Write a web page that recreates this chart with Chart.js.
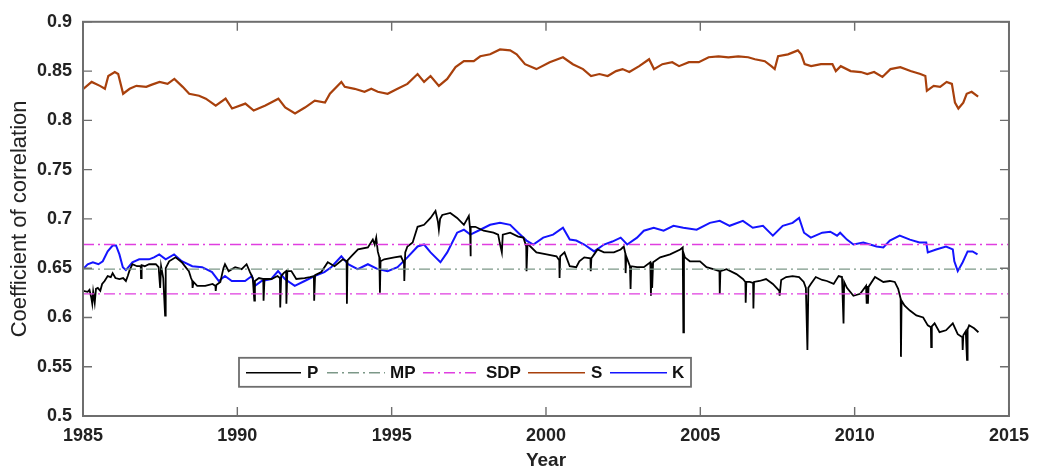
<!DOCTYPE html>
<html>
<head>
<meta charset="utf-8">
<script src="https://cdn.jsdelivr.net/npm/chart.js@4.4.1/dist/chart.umd.min.js"></script>
<style>
  html, body { margin: 0; padding: 0; background: #fff; }
  #wrap { width: 1038px; height: 472px; }
</style>
</head>
<body>
<div id="wrap"><canvas id="corrChart" width="1038" height="472"></canvas></div>
<script>
// axis setup
const xMin = 1985, xMax = 2015, xStep = 5;
const yMin = 0.5, yMax = 0.9, yStep = 0.05;

// P (black), spikes included
const pYears = [1985.00,1985.15,1985.21,1985.27,1985.30,1985.33,1985.38,1985.42,1985.48,1985.56,1985.62,1985.70,1985.80,1985.90,1985.96,
  1986.05,1986.18,1986.30,1986.39,1986.45,1986.50,1986.60,1986.75,1986.87,1986.88,1986.90,1987.00,1987.14,1987.36,1987.45,1987.50,1987.53,
  1987.60,1987.66,1987.68,1987.79,1988.00,1988.20,1988.35,1988.43,1988.50,1988.54,1988.55,1988.58,1988.70,1988.96,1989.20,1989.29,1989.30,
  1989.32,1989.45,1989.55,1989.60,1989.72,1989.93,1990.14,1990.30,1990.41,1990.50,1990.55,1990.57,1990.70,1990.84,1990.85,1990.88,1991.11,
  1991.30,1991.38,1991.39,1991.42,1991.50,1991.58,1991.59,1991.62,1991.75,1991.91,1992.18,1992.35,1992.48,1992.49,1992.52,1992.72,1992.93,
  1993.15,1993.42,1993.54,1993.55,1993.57,1993.69,1993.91,1994.23,1994.39,1994.45,1994.50,1994.55,1994.60,1994.62,1994.64,1994.76,1995.09,
  1995.30,1995.40,1995.41,1995.44,1995.51,1995.68,1995.84,1996.05,1996.26,1996.42,1996.50,1996.53,1996.57,1996.64,1996.90,1997.12,1997.34,
  1997.50,1997.54,1997.55,1997.57,1997.71,1997.98,1998.30,1998.45,1998.50,1998.57,1998.60,1998.84,1999.10,1999.27,1999.36,1999.37,1999.40,
  1999.43,1999.69,2000.02,2000.34,2000.43,2000.44,2000.46,2000.60,2000.77,2000.98,2001.08,2001.24,2001.44,2001.45,2001.47,2001.56,2001.67,
  2001.88,2002.20,2002.42,2002.52,2002.57,2002.58,2002.60,2002.72,2002.74,2002.76,2002.95,2003.17,2003.38,2003.40,2003.42,2003.44,2003.47,
  2003.70,2004.02,2004.35,2004.43,2004.45,2004.47,2004.50,2004.66,2004.99,2005.20,2005.42,2005.62,2005.63,2005.65,2005.85,2006.17,2006.38,
  2006.46,2006.47,2006.49,2006.60,2006.71,2006.72,2006.74,2006.92,2007.13,2007.35,2007.50,2007.56,2007.57,2007.62,2007.78,2007.99,2008.20,
  2008.35,2008.42,2008.47,2008.50,2008.58,2008.74,2008.95,2009.10,2009.32,2009.48,2009.59,2009.64,2009.66,2009.75,2009.96,2010.18,2010.37,
  2010.39,2010.41,2010.43,2010.45,2010.66,2010.93,2011.14,2011.30,2011.41,2011.49,2011.50,2011.52,2011.62,2011.79,2012.00,2012.22,2012.37,
  2012.47,2012.48,2012.50,2012.59,2012.75,2012.96,2013.18,2013.34,2013.49,2013.50,2013.52,2013.60,2013.64,2013.66,2013.71,2013.87,2014.01];
const pVals = [0.627,0.626,0.628,0.620,0.614,0.626,0.615,0.629,0.630,0.627,0.634,0.637,0.642,0.641,0.645,
  0.640,0.639,0.640,0.637,0.642,0.647,0.654,0.652,0.652,0.640,0.653,0.652,0.654,0.654,0.651,0.630,0.652,
  0.640,0.602,0.650,0.657,0.661,0.656,0.650,0.647,0.640,0.637,0.630,0.636,0.632,0.632,0.634,0.632,0.627,
  0.633,0.636,0.650,0.654,0.647,0.651,0.649,0.654,0.646,0.640,0.617,0.637,0.640,0.639,0.617,0.639,0.639,
  0.642,0.640,0.610,0.642,0.645,0.647,0.614,0.647,0.647,0.639,0.640,0.641,0.642,0.617,0.643,0.646,0.656,
  0.652,0.659,0.657,0.614,0.658,0.662,0.669,0.671,0.679,0.674,0.681,0.667,0.661,0.625,0.657,0.659,0.661,
  0.662,0.655,0.637,0.666,0.672,0.676,0.692,0.694,0.701,0.708,0.697,0.689,0.700,0.704,0.706,0.701,0.694,
  0.703,0.690,0.662,0.692,0.692,0.688,0.686,0.684,0.676,0.666,0.684,0.686,0.682,0.681,0.672,0.647,0.674,
  0.674,0.666,0.664,0.662,0.658,0.640,0.662,0.666,0.652,0.651,0.657,0.661,0.660,0.647,0.660,0.664,0.669,
  0.666,0.666,0.669,0.672,0.665,0.645,0.662,0.652,0.629,0.652,0.651,0.651,0.656,0.622,0.655,0.630,0.656,
  0.661,0.664,0.669,0.671,0.585,0.664,0.661,0.657,0.657,0.651,0.649,0.647,0.624,0.647,0.649,0.644,0.639,
  0.636,0.615,0.636,0.636,0.635,0.609,0.636,0.637,0.639,0.634,0.629,0.627,0.622,0.638,0.641,0.642,0.641,
  0.636,0.630,0.567,0.630,0.634,0.641,0.638,0.637,0.634,0.642,0.641,0.594,0.636,0.630,0.622,0.624,0.632,
  0.614,0.632,0.614,0.631,0.641,0.636,0.637,0.636,0.629,0.619,0.560,0.617,0.612,0.607,0.602,0.600,0.592,
  0.590,0.570,0.591,0.594,0.585,0.587,0.594,0.583,0.580,0.567,0.582,0.586,0.557,0.588,0.592,0.589,0.585];

// S (brown)
const sYears = [1985.01,1985.28,1985.55,1985.71,1985.82,1986.03,1986.14,1986.30,1986.51,1986.73,1987.05,1987.21,1987.48,1987.74,1987.96,
  1988.23,1988.44,1988.76,1988.98,1989.30,1989.62,1989.83,1990.26,1990.53,1990.91,1991.33,1991.55,1991.87,1992.19,1992.51,1992.84,1993.00,
  1993.37,1993.48,1993.80,1994.12,1994.34,1994.55,1994.87,1995.19,1995.51,1995.84,1996.05,1996.26,1996.53,1996.80,1997.07,1997.34,1997.66,
  1997.87,1998.19,1998.51,1998.84,1999.05,1999.32,1999.69,2000.12,2000.55,2000.87,2001.20,2001.46,2001.73,2002.00,2002.27,2002.48,2002.70,
  2003.02,2003.34,2003.50,2003.77,2004.09,2004.31,2004.63,2004.95,2005.27,2005.59,2005.91,2006.23,2006.55,2006.77,2007.09,2007.30,2007.41,
  2007.52,2007.84,2008.16,2008.27,2008.38,2008.59,2008.91,2009.28,2009.39,2009.55,2009.87,2010.20,2010.41,2010.63,2010.90,2011.16,2011.48,
  2011.81,2012.13,2012.29,2012.34,2012.56,2012.77,2012.98,2013.15,2013.25,2013.36,2013.52,2013.63,2013.79,2014.00];
const sVals = [0.832,0.839,0.835,0.832,0.845,0.849,0.847,0.827,0.832,0.835,0.834,0.836,0.839,0.837,0.842,
  0.834,0.827,0.825,0.822,0.815,0.822,0.812,0.817,0.810,0.815,0.822,0.813,0.807,0.813,0.820,0.818,0.827,
  0.839,0.834,0.832,0.829,0.832,0.829,0.827,0.832,0.837,0.847,0.839,0.845,0.835,0.842,0.854,0.860,0.860,
  0.865,0.867,0.872,0.871,0.867,0.857,0.852,0.859,0.864,0.857,0.852,0.845,0.847,0.845,0.850,0.852,0.849,
  0.855,0.862,0.852,0.857,0.859,0.855,0.859,0.859,0.864,0.865,0.864,0.865,0.864,0.862,0.860,0.855,0.852,
  0.865,0.867,0.871,0.867,0.857,0.855,0.857,0.857,0.850,0.855,0.850,0.849,0.847,0.849,0.844,0.852,0.854,
  0.850,0.847,0.845,0.830,0.835,0.834,0.839,0.837,0.818,0.812,0.818,0.827,0.829,0.824];

// K (blue)
const kYears = [1985.00,1985.15,1985.32,1985.50,1985.64,1985.80,1985.96,1986.07,1986.18,1986.29,1986.39,1986.60,1986.82,1987.14,1987.30,
  1987.47,1987.68,1987.95,1988.20,1988.54,1988.86,1989.18,1989.40,1989.60,1989.82,1990.25,1990.47,1990.57,1990.79,1991.10,1991.32,1991.54,
  1991.86,1992.18,1992.50,1992.82,1993.04,1993.37,1993.59,1993.90,1994.23,1994.55,1994.87,1995.19,1995.51,1995.84,1996.05,1996.26,1996.58,
  1996.80,1997.12,1997.34,1997.55,1997.87,1998.19,1998.51,1998.84,1999.10,1999.37,1999.59,1999.91,2000.23,2000.55,2000.77,2000.98,2001.24,
  2001.56,2001.88,2002.15,2002.42,2002.63,2002.95,2003.17,2003.49,2003.81,2004.13,2004.45,2004.88,2005.31,2005.63,2005.95,2006.38,2006.70,
  2007.03,2007.35,2007.67,2007.99,2008.20,2008.36,2008.58,2008.95,2009.21,2009.43,2009.53,2009.75,2009.96,2010.28,2010.50,2010.71,2010.93,
  2011.14,2011.46,2011.79,2012.10,2012.32,2012.37,2012.64,2012.96,2013.18,2013.23,2013.34,2013.50,2013.66,2013.82,2013.98];
const kVals = [0.649,0.654,0.656,0.654,0.657,0.667,0.673,0.673,0.664,0.651,0.648,0.656,0.659,0.659,0.661,
  0.664,0.659,0.664,0.657,0.652,0.651,0.646,0.637,0.642,0.637,0.637,0.642,0.632,0.637,0.639,0.647,0.639,
  0.632,0.637,0.642,0.646,0.651,0.662,0.654,0.649,0.654,0.649,0.647,0.651,0.661,0.672,0.674,0.666,0.656,
  0.666,0.686,0.689,0.684,0.689,0.694,0.696,0.694,0.686,0.678,0.674,0.681,0.684,0.691,0.679,0.678,0.674,
  0.667,0.674,0.677,0.681,0.674,0.681,0.688,0.691,0.688,0.693,0.691,0.689,0.696,0.698,0.693,0.698,0.691,
  0.693,0.683,0.693,0.696,0.701,0.686,0.681,0.686,0.687,0.683,0.686,0.679,0.674,0.676,0.674,0.672,0.671,
  0.678,0.683,0.679,0.676,0.676,0.666,0.669,0.672,0.669,0.657,0.647,0.656,0.667,0.667,0.664];

// reference lines
const mpValue = 0.649;
const sdpValues = [0.674, 0.624];

const labels = ['P', 'MP', 'SDP', 'S', 'K'];
const colors = {P: '#000000', MP: '#7c9888', SDP: '#e03ee0', S: '#a8400c', K: '#1414ff'};
const dashDot = [11, 4, 2, 4];
const FONT = "'Liberation Sans', Arial, sans-serif";

function pts(xs, ys) {
  return xs.map(function(x, i) { return {x: x, y: ys[i]}; });
}

const datasets = [
  {label: 'MP', data: pts([xMin, xMax], [mpValue, mpValue]), borderColor: colors.MP, borderWidth: 1.3, borderDash: dashDot},
  {label: 'SDP', data: pts([xMin, xMax], [sdpValues[0], sdpValues[0]]), borderColor: colors.SDP, borderWidth: 1.3, borderDash: dashDot},
  {label: 'SDP', data: pts([xMin, xMax], [sdpValues[1], sdpValues[1]]), borderColor: colors.SDP, borderWidth: 1.3, borderDash: dashDot},
  {label: 'S', data: pts(sYears, sVals), borderColor: colors.S, borderWidth: 2.2},
  {label: 'P', data: pts(pYears, pVals), borderColor: colors.P, borderWidth: 1.8},
  {label: 'K', data: pts(kYears, kVals), borderColor: colors.K, borderWidth: 2}
];
datasets.forEach(function(d) {
  d.pointRadius = 0;
  d.tension = 0;
  d.fill = false;
});

// frame, inward ticks and the boxed legend
const framePlugin = {
  id: 'frame',
  afterDraw: function(chart) {
    const ctx = chart.ctx, ca = chart.chartArea;
    const xs = chart.scales.x, ys = chart.scales.y;
    ctx.save();
    ctx.strokeStyle = '#6e6e6e';
    ctx.lineWidth = 2;
    ctx.strokeRect(ca.left, ca.top, ca.right - ca.left, ca.bottom - ca.top);
    ctx.lineWidth = 1.4;
    ctx.beginPath();
    ys.ticks.forEach(function(t) {
      const y = ys.getPixelForValue(t.value);
      ctx.moveTo(ca.left, y); ctx.lineTo(ca.left + 9, y);
      ctx.moveTo(ca.right, y); ctx.lineTo(ca.right - 9, y);
    });
    xs.ticks.forEach(function(t) {
      const x = xs.getPixelForValue(t.value);
      ctx.moveTo(x, ca.bottom); ctx.lineTo(x, ca.bottom - 9);
      ctx.moveTo(x, ca.top); ctx.lineTo(x, ca.top + 9);
    });
    ctx.stroke();

    // legend
    const lx = ca.left + 156, ly = ca.top + 336, lw = 452, lh = 29;
    ctx.fillStyle = '#fff';
    ctx.fillRect(lx, ly, lw, lh);
    ctx.strokeStyle = '#6e6e6e';
    ctx.lineWidth = 1.8;
    ctx.strokeRect(lx, ly, lw, lh);
    const items = [
      {name: 'P', c: colors.P, dash: [], x0: 7, x1: 62, tx: 68},
      {name: 'MP', c: colors.MP, dash: dashDot, x0: 88, x1: 146, tx: 151},
      {name: 'SDP', c: colors.SDP, dash: dashDot, x0: 184, x1: 241, tx: 247},
      {name: 'S', c: colors.S, dash: [], x0: 289, x1: 346, tx: 352},
      {name: 'K', c: colors.K, dash: [], x0: 371, x1: 428, tx: 433}
    ];
    const my = ly + lh / 2 + 0.5;
    ctx.font = 'bold 17px ' + FONT;
    ctx.textBaseline = 'middle';
    items.forEach(function(it) {
      ctx.strokeStyle = it.c;
      ctx.lineWidth = 1.4;
      ctx.setLineDash(it.dash);
      ctx.beginPath();
      ctx.moveTo(lx + it.x0, my);
      ctx.lineTo(lx + it.x1, my);
      ctx.stroke();
      ctx.setLineDash([]);
      ctx.fillStyle = '#111';
      ctx.fillText(it.name, lx + it.tx, my + 1);
    });
    ctx.restore();
  }
};

const corrChart = new Chart(document.getElementById('corrChart'), {
  type: 'line',
  data: {datasets: datasets},
  options: {
    responsive: false,
    animation: false,
    events: [],
    layout: {padding: {top: 19, right: 22, left: 0, bottom: 0}},
    plugins: {
      legend: {display: false},
      tooltip: {enabled: false}
    },
    scales: {
      x: {
        type: 'linear',
        min: xMin, max: xMax,
        afterFit: function(s) { s.height = 56; },
        grid: {display: false, drawTicks: false},
        border: {display: false},
        ticks: {
          stepSize: xStep, padding: 9, color: '#222',
          font: {family: FONT, size: 18, weight: 'bold'},
          callback: function(v) { return String(v); }
        },
        title: {
          display: true, text: 'Year', color: '#222',
          font: {family: FONT, size: 19, weight: 'bold'},
          padding: {top: 0, bottom: 0}
        }
      },
      y: {
        min: yMin, max: yMax,
        afterFit: function(s) { s.width = 83; },
        grid: {display: false, drawTicks: false},
        border: {display: false},
        ticks: {
          stepSize: yStep, padding: 11, color: '#222',
          font: {family: FONT, size: 18, weight: 'bold'},
          callback: function(v) { return String(+v.toFixed(2)); }
        },
        title: {
          display: true, text: 'Coefficient of correlation', color: '#222',
          font: {family: FONT, size: 22},
          padding: {top: 7, bottom: 0}
        }
      }
    }
  },
  plugins: [framePlugin]
});
</script>
</body>
</html>
